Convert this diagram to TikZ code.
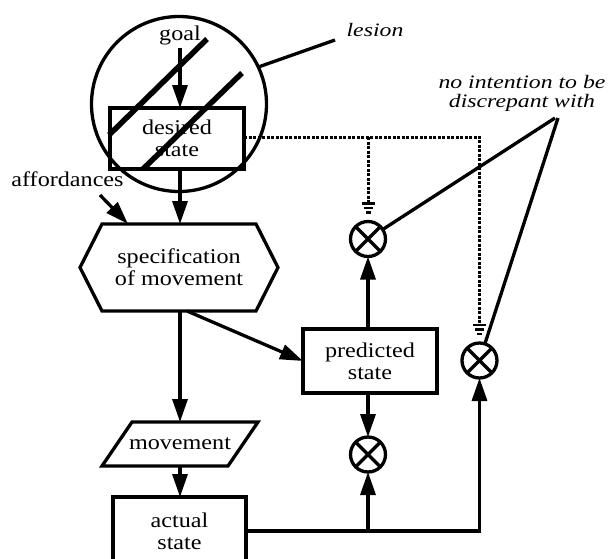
\documentclass[tikz,border=0pt]{standalone}
\usepackage{fontspec}
\setmainfont{Liberation Serif}[FakeStretch=1.15]
\newfontfamily\lblfont{Liberation Serif}[FakeStretch=1.25]
\usetikzlibrary{arrows.meta,calc}
\newcommand\groundmark[1]{%
  \draw[line width=2.6pt] ($(#1.north)+(-6.5,-18)$) -- ++(13,0)
    ($(#1.north)+(-4.5,-13.5)$) -- ++(9,0)
    ($(#1.north)+(-2.5,-9)$) -- ++(5,0);}
\begin{document}
\begin{tikzpicture}[x=1pt,y=-1pt,line width=3.3pt,
  txt/.style={font=\fontsize{21}{22}\selectfont, align=center, inner sep=0pt, outer sep=0pt},
  lbl/.style={font=\lblfont\itshape\fontsize{19}{19}\selectfont, align=center, inner sep=0pt},
  box/.style={txt, draw, rectangle},
  arr/.style={-{Triangle[length=23pt,width=15pt]}},
  cmp/.style={circle, draw, minimum size=35pt, inner sep=0pt, outer sep=0pt,
    path picture={\draw[line width=3.4pt] (path picture bounding box.north west) -- (path picture bounding box.south east)
      (path picture bounding box.north east) -- (path picture bounding box.south west);}},
  dots/.style={line width=3pt, dash pattern=on 3pt off 1.5pt},
  strike/.style={line width=5.5pt},
]
\useasboundingbox (0,0) rectangle (614,558);
% lesion circle and desired state
\node[circle, draw, minimum size=175pt, inner sep=0pt, outer sep=0pt] (lesc) at (179,104) {};
\node[txt, anchor=base, outer sep=3pt] (goal) at (180,40) {goal};
\node[box, minimum width=134pt, minimum height=61pt] (desired) at (177,138.5) {desired\\state};
\draw[arr] (goal.south -| 180,0) -- (desired.north -| 180,0);
\draw[strike] (109,135) -- (207,39);
\draw[strike] (143,169) -- (242,73);
\node[lbl, anchor=base] (lesion) at (375,36) {lesion};
\coordinate (lesend) at (335,40);
\draw (lesc.25) -- (lesend);
% specification hexagon
\node[txt, minimum width=198pt, minimum height=87pt] (spec) at (179,267.5) {specification\\of movement};
\draw ($(spec.north west)+(22,0)$) -- ($(spec.north east)+(-22,0)$) -- (spec.east)
  -- ($(spec.south east)+(-22,0)$) -- ($(spec.south west)+(22,0)$) -- (spec.west) -- cycle;
\draw[arr] (desired.south -| 180,0) -- (spec.north -| 180,0);
\node[txt, anchor=base] (aff) at (67.5,186) {affordances};
\coordinate (affs) at (100,195);
\coordinate (affe) at ($(spec.north west)+(48,0)$);
\draw[arr] (affs) -- (affe);
% movement parallelogram
\node[txt, minimum width=126pt, minimum height=44pt] (mvmt) at (180,444) {movement};
\draw ($(mvmt.south west)+(-15,0)$) -- ($(mvmt.south east)+(-15,0)$)
  -- ($(mvmt.north east)+(15,0)$) -- ($(mvmt.north west)+(15,0)$) -- cycle;
\draw[arr] (spec.south -| 180,0) -- (mvmt.north -| 180,0);
% actual state (clipped at bottom)
\begin{scope}
\clip (0,0) rectangle (614,558);
\node[box, minimum width=133pt, minimum height=68pt] (actual) at (179.5,531) {actual\\state};
\end{scope}
\draw[arr] (mvmt.south -| 180,0) -- (actual.north -| 180,0);
% predicted state and comparators
\node[box, minimum width=134pt, minimum height=64pt] (pred) at (370,361) {predicted\\state};
\node[cmp] (cmpA) at (368,239) {};
\node[cmp] (cmpB) at (368,454.5) {};
\node[cmp] (cmpC) at (479.5,360.5) {};
\draw[arr] ($(spec.south)+(8,0)$) -- (pred.west);
\draw[arr] (pred.north -| cmpA) -- (cmpA.south);
\draw[arr] (pred.south -| cmpB) -- (cmpB.north);
\draw[arr] (actual.east) -| (cmpC.south);
\draw[arr] (actual.east -| cmpB) -- (cmpB.south);
% dotted intention lines
\coordinate (dA) at ($(cmpA.north)+(0,-18)$);
\coordinate (dC) at ($(cmpC.north)+(0,-18)$);
\draw[dots] (desired.east |- 0,137) -| (dC);
\draw[dots] (dA |- 0,137) -- (dA);
\groundmark{cmpA}
\groundmark{cmpC}
% no intention label
\node[lbl] (intent) at (522,93) {no intention to be\\discrepant with};
\coordinate (ni1) at (555,118);
\coordinate (ni2) at (558,118);
\draw (ni1) -- (cmpA);
\draw (ni2) -- (cmpC);
\end{tikzpicture}
\end{document}
